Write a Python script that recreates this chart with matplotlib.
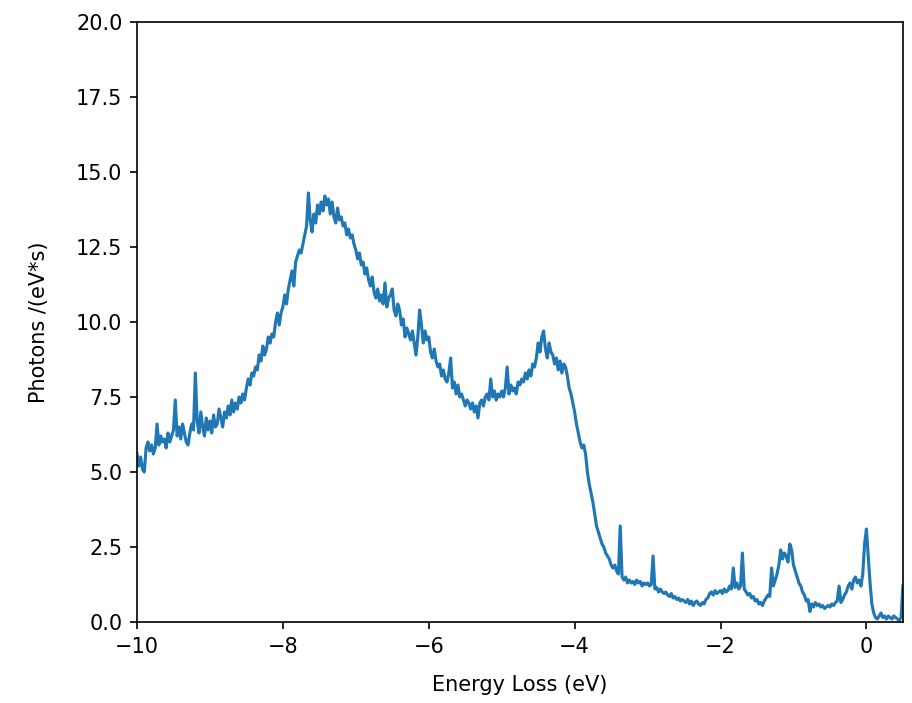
"""Photon emission spectrum vs. energy loss."""

import numpy as np
import matplotlib
matplotlib.use("Agg")
import matplotlib.pyplot as plt

E_START = -10.0
E_STEP = 0.025

# photons/(eV*s), sampled every 0.025 eV starting at -10 eV (20 samples per row = 0.5 eV)
photons = [
    5.6, 5.2, 5.5, 5.1, 5.0, 5.8, 6.0, 5.7, 5.9, 5.6, 5.8, 6.6, 5.9, 6.2, 6.0, 6.1, 5.8, 6.3, 6.0, 6.2,
    6.4, 7.4, 6.2, 6.5, 6.1, 6.6, 6.3, 6.0, 5.9, 6.3, 6.6, 6.4, 8.3, 6.7, 6.3, 7.0, 6.5, 6.2, 6.8, 6.4,
    6.7, 6.3, 6.9, 6.5, 6.6, 7.1, 6.8, 6.5, 7.0, 6.8, 7.2, 6.9, 7.4, 7.0, 7.3, 7.1, 7.5, 7.3, 7.6, 7.4,
    7.8, 8.1, 7.9, 8.3, 8.2, 8.5, 8.4, 8.9, 8.7, 9.2, 8.9, 9.1, 9.5, 9.3, 9.6, 9.5, 10.0, 10.3, 9.9, 10.3,
    10.5, 10.9, 10.6, 11.1, 11.4, 11.7, 11.2, 12.0, 12.2, 12.4, 12.3, 12.6, 12.9, 13.2, 14.3, 13.4, 13.0, 13.6, 13.3, 13.9,
    13.6, 14.0, 13.7, 14.2, 13.9, 14.1, 13.6, 14.0, 13.5, 13.3, 13.8, 13.4, 13.5, 13.2, 13.3, 12.9, 13.1, 12.8, 12.9, 12.6,
    12.4, 12.1, 12.3, 11.9, 12.0, 11.6, 11.8, 11.4, 11.2, 11.5, 11.0, 10.8, 11.1, 10.7, 10.9, 10.6, 11.3, 10.5, 10.8, 10.9,
    11.1, 10.4, 10.2, 10.6, 10.4, 9.9, 10.1, 9.5, 9.8, 9.6, 9.4, 9.7, 9.3, 8.9, 9.5, 10.4, 9.9, 9.3, 9.7, 9.4,
    9.5, 9.0, 8.8, 9.1, 8.7, 8.5, 8.6, 8.2, 8.4, 8.1, 8.0, 8.3, 8.8, 7.8, 8.0, 7.6, 7.9, 7.5, 7.6, 7.4,
    7.2, 7.4, 7.3, 7.1, 7.3, 7.0, 7.2, 6.8, 7.3, 7.4, 7.2, 7.5, 7.6, 7.4, 8.1, 7.5, 7.7, 7.4, 7.6, 7.5,
    7.7, 7.5, 7.8, 8.5, 7.6, 7.9, 7.7, 7.8, 7.6, 8.0, 7.9, 8.1, 8.0, 8.3, 8.1, 8.4, 8.2, 8.6, 8.5, 8.8,
    9.3, 9.0, 9.5, 9.7, 9.1, 8.8, 9.3, 9.0, 8.9, 8.6, 8.8, 8.4, 8.7, 8.3, 8.6, 8.5, 8.2, 7.8, 7.6, 7.3,
    7.0, 6.6, 6.3, 6.0, 5.8, 5.9, 5.6, 5.0, 4.6, 4.3, 4.0, 3.6, 3.2, 3.0, 2.8, 2.6, 2.5, 2.3, 2.2, 2.1,
    1.9, 1.8, 1.9, 1.7, 1.6, 3.2, 1.5, 1.4, 1.5, 1.3, 1.4, 1.3, 1.35, 1.25, 1.4, 1.3, 1.35, 1.2, 1.3, 1.25,
    1.3, 1.2, 1.25, 2.2, 1.1, 1.15, 1.0, 1.1, 1.0, 0.95, 1.0, 0.9, 0.85, 0.95, 0.8, 0.85, 0.75, 0.8, 0.7, 0.75,
    0.7, 0.65, 0.75, 0.6, 0.7, 0.55, 0.65, 0.7, 0.6, 0.55, 0.65, 0.6, 0.75, 0.8, 0.95, 1.0, 0.9, 1.05, 0.95, 1.0,
    1.05, 0.95, 1.1, 1.0, 1.05, 1.2, 1.1, 1.8, 1.15, 1.3, 1.1, 1.2, 2.3, 1.1, 1.0, 0.9, 0.95, 0.8, 0.85, 0.7,
    0.75, 0.6, 0.65, 0.55, 0.7, 0.8, 0.9, 0.85, 1.8, 1.2, 1.4, 1.6, 1.9, 2.4, 2.1, 2.3, 2.2, 2.0, 2.6, 2.4,
    1.9, 1.7, 1.5, 1.3, 1.2, 1.0, 0.9, 0.7, 0.75, 0.35, 0.6, 0.5, 0.65, 0.55, 0.6, 0.5, 0.55, 0.45, 0.5, 0.55,
    0.5, 0.6, 0.55, 0.65, 0.7, 1.2, 0.65, 0.75, 0.9, 1.0, 1.2, 1.3, 1.1, 1.4, 1.5, 1.3, 1.4, 1.2, 1.6, 2.6,
    3.1, 2.2, 1.3, 0.6, 0.3, 0.15, 0.1, 0.2, 0.3, 0.15, 0.2, 0.1, 0.2, 0.15, 0.1, 0.2, 0.15, 0.1, 0.05, 0.15,
    1.2,
]
energy = E_START + E_STEP * np.arange(len(photons))

fig = plt.figure(figsize=(6.08, 4.687), dpi=150)
ax = fig.add_axes([0.1502, 0.1152, 0.8398, 0.8535])
ax.plot(energy, photons, color="C0", lw=1.5)
ax.set_xlim(-10, 0.5)
ax.set_ylim(0, 20)
ax.set_xlabel("Energy Loss (eV)", labelpad=9)
ax.set_ylabel("Photons /(eV*s)", labelpad=13)
fig.savefig("out.png", dpi=150)
